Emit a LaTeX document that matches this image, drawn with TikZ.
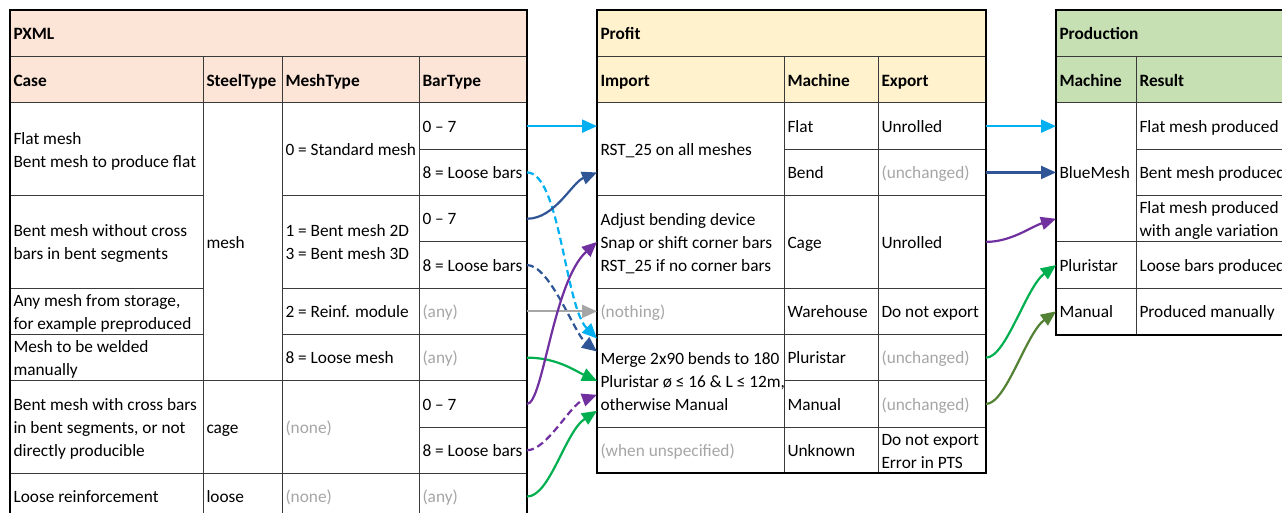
\documentclass[tikz,border=0pt]{standalone}
\usepackage{fontspec}
\setmainfont{Carlito}
\usetikzlibrary{arrows.meta,calc}
\definecolor{pxml}{HTML}{FCE4D6}
\definecolor{profit}{HTML}{FFF2CC}
\definecolor{prod}{HTML}{C6E0B4}
\definecolor{txtgray}{HTML}{A6A6A6}
\definecolor{gridline}{HTML}{3A3A3A}
\definecolor{cCyan}{HTML}{00B0F0}
\definecolor{cBlue}{HTML}{2F5597}
\definecolor{cPurple}{HTML}{7030A0}
\definecolor{cGreen}{HTML}{00B050}
\definecolor{cOlive}{HTML}{548235}
\definecolor{cGray}{HTML}{A6A6A6}
\newcommand\cellfont{\fontsize{17.3}{23}\selectfont}
\newcommand\cellstrut{\vrule height 13pt depth 4.5pt width 0pt\relax}
\tikzset{
  cellbox/.style={draw=gridline, line width=1pt, inner sep=0pt, outer sep=0pt},
  celltext/.style={inner xsep=3.5pt, inner ysep=0pt, outer sep=0pt, align=left,
    font=\cellfont, text=black},
  hdr/.style={font=\cellfont\bfseries},
  dim/.style={text=txtgray},
  frame/.style={draw=black, line width=2pt},
  conn/.style={line width=2.2pt, -{Triangle[length=15pt,width=13pt]}},
  dsh/.style={dash pattern=on 7pt off 4pt},
}
% \cell[text options][box options]{name}{x1}{y1}{x2}{y2}{text}
\NewDocumentCommand\cell{O{}O{}mmmmmm}{%
  \pgfmathsetmacro\cellW{#6-#4}\pgfmathsetmacro\cellH{#7-#5}%
  \node[cellbox,#2,minimum width=\cellW pt,minimum height=\cellH pt,anchor=north west] (#3) at (#4,#5) {};
  \node[celltext,#1,anchor=west] (#3t) at ($(#3.west)+(0,2)$) {\cellstrut#8\cellstrut};}
\begin{document}
\begin{tikzpicture}[x=1pt,y=-1pt]
\useasboundingbox (0,0) rectangle (1282,513);
\fill[white] (0,0) rectangle (1282,513);
% ---------------- PXML ----------------
\cell[hdr][fill=pxml]{pxTitle}{10}{10}{527}{57}{PXML}
\cell[hdr][fill=pxml]{pxH1}{10}{57}{203}{103}{Case}
\cell[hdr][fill=pxml]{pxH2}{203}{57}{282}{103}{SteelType}
\cell[hdr][fill=pxml]{pxH3}{282}{57}{419}{103}{MeshType}
\cell[hdr][fill=pxml]{pxH4}{419}{57}{527}{103}{BarType}
% Case
\cell{c1}{10}{103}{203}{195.6}{Flat mesh\\Bent mesh to produce flat}
\cell{c2}{10}{195.6}{203}{288.2}{Bent mesh without cross\\bars in bent segments}
\cell{c3}{10}{288.2}{203}{334.5}{Any mesh from storage,\\for example preproduced}
\cell{c4}{10}{334.5}{203}{380.8}{Mesh to be welded\\manually}
\cell{c5}{10}{380.8}{203}{473.4}{Bent mesh with cross bars\\in bent segments, or not\\directly producible}
\cell{c6}{10}{473.4}{203}{519.7}{Loose reinforcement}
% SteelType
\cell{s1}{203}{103}{282}{380.8}{mesh}
\cell{s2}{203}{380.8}{282}{473.4}{cage}
\cell{s3}{203}{473.4}{282}{519.7}{loose}
% MeshType
\cell{m1}{282}{103}{419}{195.6}{0 = Standard mesh}
\cell{m2}{282}{195.6}{419}{288.2}{1 = Bent mesh 2D\\3 = Bent mesh 3D}
\cell{m3}{282}{288.2}{419}{334.5}{2 = Reinf. module}
\cell{m4}{282}{334.5}{419}{380.8}{8 = Loose mesh}
\cell[dim]{m5}{282}{380.8}{419}{473.4}{(none)}
\cell[dim]{m6}{282}{473.4}{419}{519.7}{(none)}
% BarType
\cell{bt1}{419}{103}{527}{149.3}{0 – 7}
\cell{bt2}{419}{149.3}{527}{195.6}{8 = Loose bars}
\cell{bt3}{419}{195.6}{527}{241.9}{0 – 7}
\cell{bt4}{419}{241.9}{527}{288.2}{8 = Loose bars}
\cell[dim]{bt5}{419}{288.2}{527}{334.5}{(any)}
\cell[dim]{bt6}{419}{334.5}{527}{380.8}{(any)}
\cell{bt7}{419}{380.8}{527}{427.1}{0 – 7}
\cell{bt8}{419}{427.1}{527}{473.4}{8 = Loose bars}
\cell[dim]{bt9}{419}{473.4}{527}{519.7}{(any)}
\draw[frame] (10,10) rectangle (527,530);
% ---------------- Profit ----------------
\cell[hdr][fill=profit]{prTitle}{597}{10}{986}{57}{Profit}
\cell[hdr][fill=profit]{prH1}{597}{57}{784}{103}{Import}
\cell[hdr][fill=profit]{prH2}{784}{57}{878}{103}{Machine}
\cell[hdr][fill=profit]{prH3}{878}{57}{986}{103}{Export}
\cell{imp1}{597}{103}{784}{195.6}{RST\_25 on all meshes}
\cell{imp2}{597}{195.6}{784}{288.2}{Adjust bending device\\Snap or shift corner bars\\RST\_25 if no corner bars}
\cell[dim]{imp3}{597}{288.2}{784}{334.5}{(nothing)}
\cell{imp4}{597}{334.5}{784}{427.1}{Merge 2x90 bends to 180\\Pluristar ø ≤ 16 \& L ≤ 12m,\\otherwise Manual}
\cell[dim]{imp5}{597}{427.1}{784}{473.4}{(when unspecified)}
\cell{mFlat}{784}{103}{878}{149.3}{Flat}
\cell{mBend}{784}{149.3}{878}{195.6}{Bend}
\cell{mCage}{784}{195.6}{878}{288.2}{Cage}
\cell{mWare}{784}{288.2}{878}{334.5}{Warehouse}
\cell{mPlur}{784}{334.5}{878}{380.8}{Pluristar}
\cell{mMan}{784}{380.8}{878}{427.1}{Manual}
\cell{mUnk}{784}{427.1}{878}{473.4}{Unknown}
\cell{exFlat}{878}{103}{986}{149.3}{Unrolled}
\cell[dim]{exBend}{878}{149.3}{986}{195.6}{(unchanged)}
\cell{exCage}{878}{195.6}{986}{288.2}{Unrolled}
\cell{exWare}{878}{288.2}{986}{334.5}{Do not export}
\cell[dim]{exPlur}{878}{334.5}{986}{380.8}{(unchanged)}
\cell[dim]{exMan}{878}{380.8}{986}{427.1}{(unchanged)}
\cell{exUnk}{878}{427.1}{986}{473.4}{Do not export\\Error in PTS}
\draw[frame] (597,10) rectangle (986,473.4);
% ---------------- Production ----------------
\cell[hdr][fill=prod]{pdTitle}{1056}{10}{1320}{57}{Production}
\cell[hdr][fill=prod]{pdH1}{1056}{57}{1136}{103}{Machine}
\cell[hdr][fill=prod]{pdH2}{1136}{57}{1320}{103}{Result}
\cell{pBlue}{1056}{103}{1136}{241.9}{BlueMesh}
\cell{pPlur}{1056}{241.9}{1136}{288.2}{Pluristar}
\cell{pMan}{1056}{288.2}{1136}{334.5}{Manual}
\cell{res1}{1136}{103}{1320}{149.3}{Flat mesh produced}
\cell{res2}{1136}{149.3}{1320}{195.6}{Bent mesh produced}
\cell{res3}{1136}{195.6}{1320}{241.9}{Flat mesh produced\\with angle variation}
\cell{res4}{1136}{241.9}{1320}{288.2}{Loose bars produced}
\cell{res5}{1136}{288.2}{1320}{334.5}{Produced manually}
\draw[frame] (1056,10) rectangle (1320,334.5);
% ---------------- connectors PXML -> Profit ----------------
\draw[conn,cCyan] (bt1.east) -- (imp1.west |- bt1.east);
\draw[conn,cCyan,dsh] (bt2.east) .. controls +(33,0) and +(-32,-32) .. ($(imp4.north west)+(0,4)$);
\draw[conn,cBlue] (bt3.east) .. controls +(28,0) and +(-25,10) .. (imp1.west |- mBend.west);
\draw[conn,cBlue,dsh] (bt4.east) .. controls +(23,0) and +(-22,-17) .. ($(imp4.north west)+(0,17)$);
\draw[conn,cGray] (bt5.east) -- (imp3.west);
\draw[conn,cGreen] (bt6.east) .. controls +(30,0) and +(-22,-10) .. (imp4.west);
\draw[conn,cPurple] (bt7.east) .. controls +(16,0) and +(-44,40) .. (imp2.west);
\draw[conn,cPurple,dsh] (bt8.east) .. controls +(20,0) and +(-27,10) .. ($(imp4.west)+(0,14)$);
\draw[conn,cGreen] (bt9.east) .. controls +(23,0) and +(-32,21) .. ($(imp4.west)+(0,30)$);
% ---------------- connectors Profit -> Production ----------------
\draw[conn,cCyan] (exFlat.east) -- (pBlue.west |- exFlat.east);
\draw[conn,cBlue] (exBend.east) -- (pBlue.west |- exBend.east);
\draw[conn,cPurple] (exCage.east) .. controls +(25,0) and +(-25,8) .. (pBlue.west |- res3.west);
\draw[conn,cGreen] (exPlur.east) .. controls +(20,0) and +(-30,22) .. (pPlur.west);
\draw[conn,cOlive] (exMan.east) .. controls +(20,0) and +(-30,22) .. (pMan.west);
\end{tikzpicture}
\end{document}
